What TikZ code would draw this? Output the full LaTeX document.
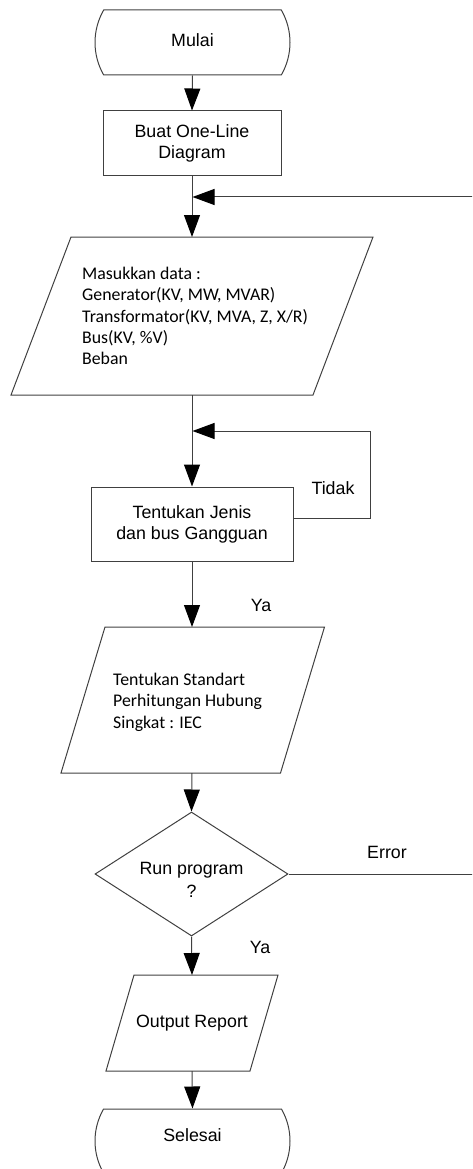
\documentclass[tikz,border=0pt]{standalone}
\usepackage{fontspec}
\setmainfont{Liberation Sans}
\newfontfamily\calibrifont{Carlito}
\usetikzlibrary{arrows.meta,shapes.geometric,shapes.misc,calc}
\begin{document}
\begin{tikzpicture}[x=1pt,y=-1pt,
  shp/.style={draw=black!75, line width=1pt},
  line/.style={draw=black!75, line width=1pt},
  arr/.style={line, -{Triangle[length=22pt,width=16pt,fill=black,color=black]}},
  arialtext/.style={font=\fontsize{17.8pt}{21pt}\selectfont, align=center},
  box/.style={shp, arialtext, rectangle, inner sep=0pt},
  ghost/.style={rectangle, inner sep=0pt, outer sep=0pt},
  term/.style={shp, arialtext, rounded rectangle, rounded rectangle arc length=60, inner sep=0pt, minimum width=195pt, minimum height=65pt},
  decision/.style={shp, arialtext, diamond, aspect=1.556, inner sep=0pt, minimum width=193pt, minimum height=124pt},
  ctext/.style={font=\calibrifont\fontsize{17.8pt}{21.4pt}\selectfont, align=left, inner sep=0pt, anchor=west},
  lbl/.style={font=\fontsize{17.8pt}{21pt}\selectfont, inner sep=0pt},
]
\useasboundingbox (0,0) rectangle (472,1169);
\clip (0,0) rectangle (472,1169);

% Start
\node[term, text depth=5pt] (mulai) at (192.5,42.5) {Mulai};

% One-line diagram
\node[box, minimum width=178pt, minimum height=65pt] (buat) at (192,143.5) {Buat One-Line\\Diagram};

% Input data parallelogram
\node[ghost, minimum width=302pt, minimum height=158pt] (p1) at (192,316) {};
\draw[shp] ($(p1.north west)+(30,0)$) -- ($(p1.north east)+(30,0)$)
  -- ($(p1.south east)+(-30,0)$) -- ($(p1.south west)+(-30,0)$) -- cycle;
\node[ctext] (p1t) at (82,316) {Masukkan data :\\Generator(KV, MW, MVAR)\\Transformator(KV, MVA, Z, X/R)\\Bus(KV, \%V)\\Beban};

% Fault type box
\node[box, minimum width=202pt, minimum height=74pt] (tent) at (192,524) {Tentukan Jenis\\dan bus Gangguan};

% Standard parallelogram
\node[ghost, minimum width=219.5pt, minimum height=146pt] (p2) at (192.75,700) {};
\draw[shp] ($(p2.north west)+(22,0)$) -- ($(p2.north east)+(22,0)$)
  -- ($(p2.south east)+(-22,0)$) -- ($(p2.south west)+(-22,0)$) -- cycle;
\node[ctext] (p2t) at (113,702) {Tentukan Standart\\Perhitungan Hubung\\Singkat : IEC};

% Decision
\node[decision, font=\fontsize{17.8pt}{23pt}\selectfont, text height=46pt] (run) at (191.5,874) {Run program\\?};

% Output parallelogram
\node[ghost, arialtext, minimum width=144pt, minimum height=96pt] (p3) at (192,1023) {Output Report};
\draw[shp] ($(p3.north west)+(14,0)$) -- ($(p3.north east)+(14,0)$)
  -- ($(p3.south east)+(-14,0)$) -- ($(p3.south west)+(-14,0)$) -- cycle;

% End
\node[term, text depth=12pt, minimum height=64pt] (sel) at (192.5,1141) {Selesai};

% junctions
\coordinate (j1) at (192.5,197);
\coordinate (j2) at (192.5,431);
\coordinate (r1) at (480,874);
\coordinate (r2) at (480,197);
\coordinate (t1) at (370,518);
\coordinate (t2) at (370,431);

% connectors
\draw[arr] (mulai.south) -- (buat.north);
\draw[arr] (buat.south) -- (p1.north);
\draw[arr] (p1.south) -- (tent.north);
\draw[arr] (tent.south) -- (p2.north -| tent.south);
\draw[arr] (p2.south -| tent.south) -- (run.north);
\draw[arr] (run.south) -- (p3.north);
\draw[arr] (p3.south) -- (sel.north);

\draw[arr] ($(tent.east)+(0,-6)$) -- (t1) -- (t2) -- (j2);
\draw[arr] (run.east) -- (r1) -- (r2) -- (j1);

% labels
\node[lbl] (tidak) at (333,488) {Tidak};
\node[lbl] (ya1) at (261,605) {Ya};
\node[lbl] (err) at (387,852) {Error};
\node[lbl] (ya2) at (260,947) {Ya};
\end{tikzpicture}
\end{document}
